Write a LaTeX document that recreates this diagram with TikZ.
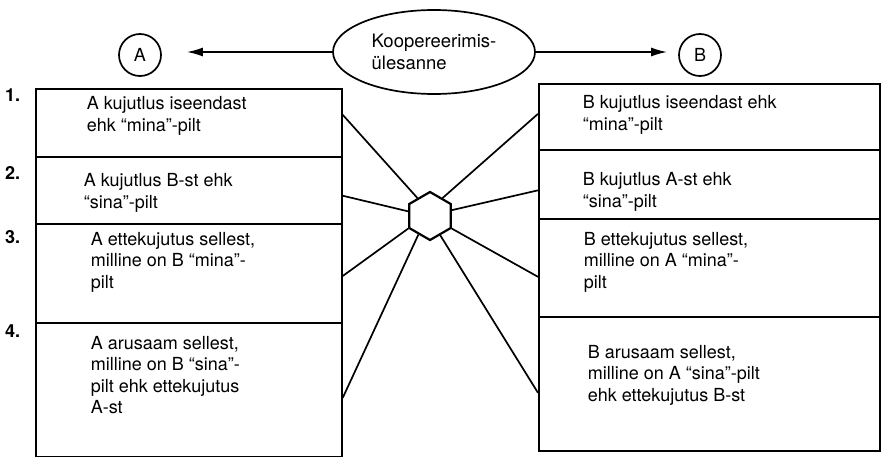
\documentclass[tikz,border=0pt]{standalone}
\usepackage{fontspec}
\setmainfont{TeX Gyre Heros}
\usetikzlibrary{shapes.geometric,arrows.meta}
\begin{document}
\begin{tikzpicture}[x=1pt,y=-1pt,line width=1.7pt,
  sect/.style={draw,rectangle,anchor=north west,inner sep=0pt},
  txt/.style={anchor=west,align=left,inner sep=0pt,font=\fontsize{18}{21.5}\selectfont},
  num/.style={anchor=east,inner sep=0pt,font=\fontsize{18}{20}\selectfont\bfseries},
  who/.style={draw,circle,minimum size=42pt,inner sep=0pt,font=\fontsize{18}{20}\selectfont},
  tip/.style={-{Latex[length=16pt,width=9pt]}}]
\useasboundingbox (0,0) rectangle (881,457);
% the two columns of boxes
\foreach \n/\y/\h in {1/88/68,2/156/67,3/223/99,4/322/134}
  \node[sect,minimum width=306pt,minimum height=\h pt] (L\n) at (35,\y) {};
\foreach \n/\y/\h in {1/83/66,2/149/69,3/218/98,4/316/134}
  \node[sect,minimum width=341pt,minimum height=\h pt] (R\n) at (538,\y) {};
\foreach \n/\y in {1/95,2/173,3/237,4/331}
  \node[num] (n\n) at (21,\y) {\n.};
% task and partners
\node[draw,ellipse,minimum width=202pt,minimum height=84pt,align=left,inner sep=0pt,
  font=\fontsize{18.5}{22}\selectfont] (task) at (434,52) {Koopereerimis-\\ülesanne};
\node[who] (A) at (140,55) {A};
\node[who] (B) at (700,55) {B};
\draw[tip,shorten >=25pt] (task.west) -- (task.west -| A.east);
\draw[tip,shorten >=11pt] (task.east) -- (task.east -| B.west);
% hexagon in the middle
\node[draw,regular polygon,regular polygon sides=6,regular polygon rotate=30,
  minimum size=48pt,inner sep=0pt,line width=2.2pt] (hex) at (430,216) {};
\foreach \n/\a/\b in {1/3/125,2/358/168,3/359/210,4/357/238}
  \draw (L\n.\a) -- (hex.\b);
\foreach \n/\a/\b in {1/179/55,2/182/15,3/183/330,4/183/298}
  \draw (R\n.\a) -- (hex.\b);
% texts
\node[txt] (tL1) at (86,116) {A kujutlus iseendast\\ehk “mina”-pilt};
\node[txt] (tL2) at (83,193) {A kujutlus B-st ehk\\“sina”-pilt};
\node[txt] (tL3) at (90,262) {A ettekujutus sellest,\\milline on B “mina”-\\pilt};
\node[txt] (tL4) at (90,375) {A arusaam sellest,\\milline on B “sina”-\\pilt ehk ettekujutus\\A-st};
\node[txt] (tR1) at (582,115) {B kujutlus iseendast ehk\\“mina”-pilt};
\node[txt] (tR2) at (582,192) {B kujutlus A-st ehk\\“sina”-pilt};
\node[txt] (tR3) at (583,262) {B ettekujutus sellest,\\milline on A “mina”-\\pilt};
\node[txt] (tR4) at (587,375) {B arusaam sellest,\\milline on A “sina”-pilt\\ehk ettekujutus B-st};
\end{tikzpicture}
\end{document}
